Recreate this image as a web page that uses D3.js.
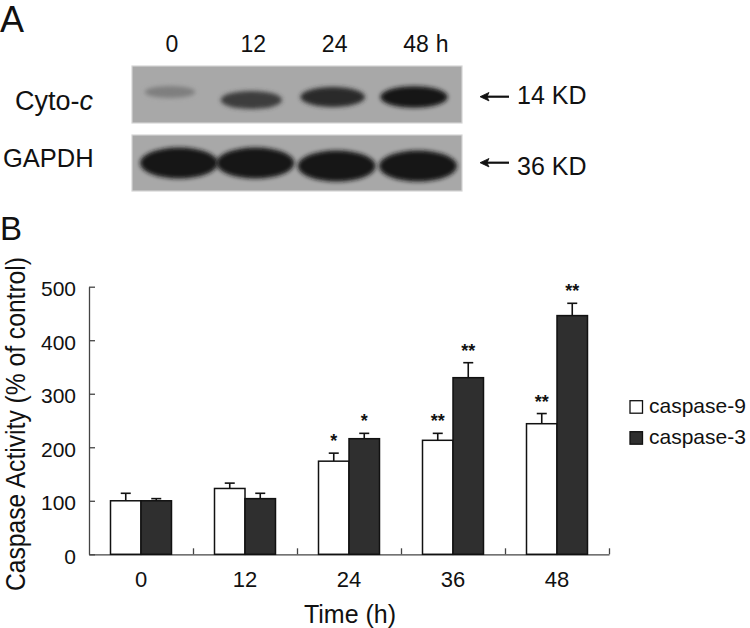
<!DOCTYPE html>
<html><head><meta charset="utf-8">
<script src="https://cdn.jsdelivr.net/npm/d3@7/dist/d3.min.js"></script>
<style>
body{margin:0;background:#fff}
svg{display:block}
text{font-family:"Liberation Sans",Arial,Helvetica,sans-serif;fill:#111}
</style>
</head><body>
<svg id="c" width="750" height="628"></svg>
<script>
// ---------- Panel A data (western blot) ----------
const lanes = ["0", "12", "24", "48"];
const laneUnit = "h";
const cytoC = [0.28, 0.72, 0.86, 0.97];   // relative band density
const gapdh = [1, 1, 1, 1];
const blotRows = ["Cyto-", "GAPDH"];
const markers = ["14 KD", "36 KD"];

// ---------- Panel B data ----------
const times = ["0", "12", "24", "36", "48"];
const series = ["caspase-9", "caspase-3"];
const casp9 = [100, 123, 174, 213, 244];
const casp9Err = [14, 10, 15, 13, 19];
const casp3 = [100, 104, 216, 330, 446];
const casp3Err = [4, 10, 10, 28, 23];
const casp9Sig = ["", "", "*", "**", "**"];
const casp3Sig = ["", "", "*", "**", "**"];
const yTicks = [0, 100, 200, 300, 400, 500];

const svg = d3.select("#c");
const FONT = '"Liberation Sans",Arial,sans-serif';

// ================= Panel A =================
svg.append("text").attr("x", 0).attr("y", 32).attr("font-size", 36).text("A");

const lx = d3.scalePoint().domain(lanes).range([172, 416]);
const blotX = [132, 462];
const rowsY = [[66, 123], [135, 191]];
const bandY = [97, 164];

const defs = svg.append("defs");
defs.append("filter").attr("id", "blur").attr("x", "-30%").attr("y", "-60%").attr("width", "160%").attr("height", "220%")
  .append("feGaussianBlur").attr("stdDeviation", 2);
rowsY.forEach((r, i) => {
  defs.append("clipPath").attr("id", "clip" + i).append("rect")
    .attr("x", blotX[0]).attr("y", r[0]).attr("width", blotX[1] - blotX[0]).attr("height", r[1] - r[0]);
});

const bg = "#a8a8a8";
const shade = d3.scaleLinear().domain([0, 1]).range([bg, "#141414"]);

rowsY.forEach((r) => {
  svg.append("rect").attr("x", blotX[0]).attr("y", r[0])
    .attr("width", blotX[1] - blotX[0]).attr("height", r[1] - r[0])
    .attr("fill", bg).attr("stroke", "#d4d4d4").attr("stroke-width", 1.2);
});

// Cyto-c bands
const g0 = svg.append("g").attr("clip-path", "url(#clip0)");
g0.selectAll("ellipse").data(cytoC).join("ellipse")
  .attr("cx", (d, i) => lx(lanes[i]) - 2)
  .attr("cy", (d, i) => bandY[0] + (i === 0 ? -5 : i === 1 ? 3 : 0))
  .attr("rx", d => 22 + 12 * d)
  .attr("ry", d => 4 + 7 * d)
  .attr("fill", d => shade(d))
  .attr("filter", "url(#blur)");

// GAPDH bands
const g1 = svg.append("g").attr("clip-path", "url(#clip1)");
g1.selectAll("ellipse").data(gapdh).join("ellipse")
  .attr("cx", (d, i) => lx(lanes[i]) + (i === 0 ? 7 : 2))
  .attr("cy", (d, i) => bandY[1] + (i >= 2 ? 2 : -1))
  .attr("rx", d => 39 * d)
  .attr("ry", d => 15.5 * d)
  .attr("fill", d => shade(d))
  .attr("filter", "url(#blur)");

// lane labels
svg.selectAll(".lane").data(lanes).join("text").attr("class", "lane")
  .attr("x", d => lx(d)).attr("y", 52).attr("text-anchor", "middle")
  .attr("font-size", 23).text(d => d);
const lastLbl = svg.selectAll(".lane").filter((d, i) => i === lanes.length - 1).node();
const lastW = lastLbl.getComputedTextLength();
svg.append("text").attr("x", lx(lanes[lanes.length - 1]) + lastW / 2 + 7).attr("y", 52)
  .attr("font-size", 23).text(laneUnit);

// row labels
const cyto = svg.append("text").attr("x", 15).attr("y", 110).attr("font-size", 27);
cyto.append("tspan").text(blotRows[0]);
cyto.append("tspan").attr("font-style", "italic").text("c");
svg.append("text").attr("x", 3).attr("y", 167).attr("font-size", 25.5).text(blotRows[1]);

// markers with arrows (pointing left)
[96.7, 162.7].forEach((yy, i) => {
  svg.append("line").attr("x1", 509).attr("x2", 486).attr("y1", yy).attr("y2", yy)
    .attr("stroke", "#111").attr("stroke-width", 2.2);
  svg.append("path")
    .attr("d", `M480,${yy} L489,${yy - 4.2} L487,${yy} L489,${yy + 4.2} Z`)
    .attr("fill", "#111").attr("stroke", "#111").attr("stroke-width", 0.8).attr("stroke-linejoin", "round");
  svg.append("text").attr("x", 517).attr("y", [103.5, 175][i]).attr("font-size", 25).text(markers[i]);
});

// ================= Panel B =================
svg.append("text").attr("x", 0).attr("y", 240).attr("font-size", 33).text("B");

const y = d3.scaleLinear().domain([0, 500]).range([554.3, 286.7]);
const pad = 0.4135;
const x0 = d3.scaleBand().domain(times).range([89, 609]).paddingInner(pad).paddingOuter(pad / 2);
const x1 = d3.scaleBand().domain(series).range([0, x0.bandwidth()]);
const xi = d3.scaleLinear().domain([0, times.length]).range([89, 609]);

const axisCol = "#444";

// y axis
const ya = svg.append("g").attr("transform", "translate(89,0)")
  .call(d3.axisLeft(y).tickValues(yTicks).tickSizeInner(-6).tickSizeOuter(0).tickPadding(13));
ya.selectAll("text").attr("font-size", 21).attr("font-family", FONT).attr("fill", "#111").attr("dy", "0.42em");

// x axis (boundary ticks)
const xa = svg.append("g").attr("transform", "translate(0,554.3)")
  .call(d3.axisBottom(xi).tickValues(d3.range(1, times.length + 1)).tickSizeInner(-6).tickSizeOuter(0).tickFormat(""));
// x category labels
const xl = svg.append("g").attr("transform", "translate(0,554.3)")
  .call(d3.axisBottom(x0).tickSize(0).tickPadding(17));
xl.select(".domain").remove();
xl.selectAll("text").attr("font-size", 22).attr("font-family", FONT).attr("fill", "#111");

[ya, xa].forEach(a => {
  a.selectAll("path,line").attr("stroke", axisCol).attr("stroke-width", 1.3);
});

// bars
const rows = times.map((t, i) => ({
  t,
  vals: [
    { s: series[0], v: casp9[i], e: casp9Err[i], sig: casp9Sig[i] },
    { s: series[1], v: casp3[i], e: casp3Err[i], sig: casp3Sig[i] }
  ]
}));
const fills = { "caspase-9": "#ffffff", "caspase-3": "#2f2f2f" };

const grp = svg.append("g").selectAll("g").data(rows).join("g")
  .attr("transform", d => `translate(${x0(d.t)},0)`);

const eb = grp.selectAll(".eb").data(d => d.vals).join("g").attr("class", "eb");
eb.append("line")
  .attr("x1", d => x1(d.s) + x1.bandwidth() / 2).attr("x2", d => x1(d.s) + x1.bandwidth() / 2)
  .attr("y1", d => y(d.v)).attr("y2", d => y(d.v + d.e))
  .attr("stroke", "#111").attr("stroke-width", 1.6);
eb.append("line")
  .attr("x1", d => x1(d.s) + x1.bandwidth() / 2 - 5).attr("x2", d => x1(d.s) + x1.bandwidth() / 2 + 5)
  .attr("y1", d => y(d.v + d.e)).attr("y2", d => y(d.v + d.e))
  .attr("stroke", "#111").attr("stroke-width", 1.6);

grp.selectAll("rect").data(d => d.vals).join("rect")
  .attr("x", d => x1(d.s)).attr("width", x1.bandwidth())
  .attr("y", d => y(d.v)).attr("height", d => y(0) - y(d.v))
  .attr("fill", d => fills[d.s]).attr("stroke", "#111").attr("stroke-width", 1.5);

// significance
grp.selectAll(".sig").data(d => d.vals.filter(v => v.sig)).join("text").attr("class", "sig")
  .attr("x", d => x1(d.s) + x1.bandwidth() / 2)
  .attr("y", d => y(d.v + d.e) - 6)
  .attr("text-anchor", "middle").attr("font-size", 18).attr("font-weight", "bold")
  .text(d => d.sig);

// axis titles
svg.append("text").attr("x", 350).attr("y", 623).attr("text-anchor", "middle")
  .attr("font-size", 25).text("Time (h)");
svg.append("text").attr("transform", "translate(25,424) rotate(-90)")
  .attr("text-anchor", "middle").attr("font-size", 27)
  .attr("textLength", 334).attr("lengthAdjust", "spacingAndGlyphs")
  .text("Caspase Activity (% of control)");

// legend
const leg = svg.append("g").selectAll("g").data(series).join("g")
  .attr("transform", (d, i) => `translate(630,${400.7 + i * 31})`);
leg.append("rect").attr("width", 12.5).attr("height", 12.5)
  .attr("fill", d => fills[d]).attr("stroke", "#111").attr("stroke-width", 1.3);
leg.append("text").attr("x", 19).attr("y", 12).attr("font-size", 21).text(d => d);
</script>
</body></html>
